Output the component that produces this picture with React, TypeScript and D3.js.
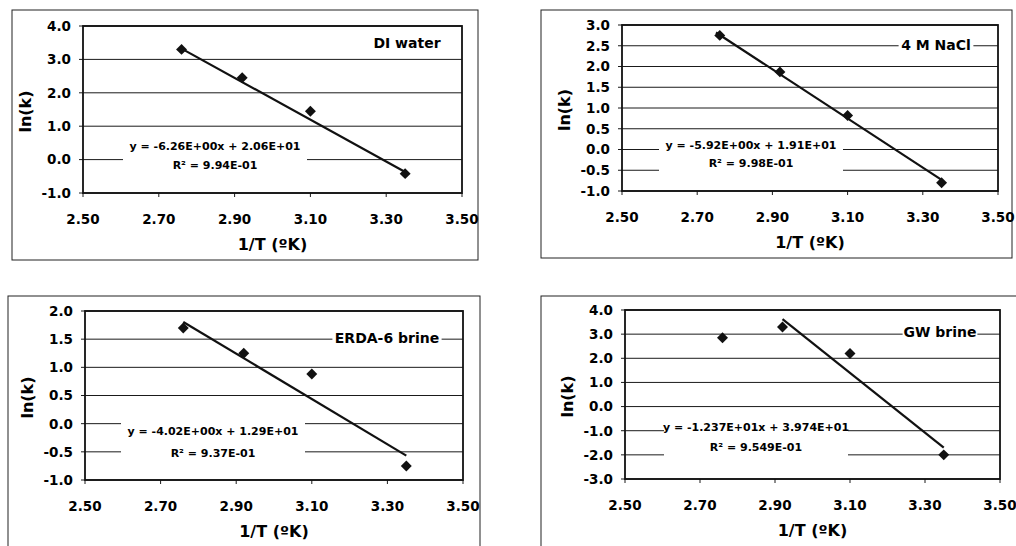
import React from 'react';
import * as d3 from 'd3';

// data
const panelNames = ['DI water', '4 M NaCl', 'ERDA-6 brine', 'GW brine'];
const invT = [2.76, 2.92, 3.1, 3.35];
const lnkDI = [3.3, 2.45, 1.45, -0.42];
const lnkNaCl = [2.75, 1.87, 0.82, -0.8];
const lnkERDA = [1.7, 1.25, 0.88, -0.75];
const lnkGW = [2.85, 3.3, 2.2, -2.0];
const slopes = [-6.26, -5.92, -4.02, -12.37];
const intercepts = [20.6, 19.1, 12.9, 39.74];
const fitStart = [2.76, 2.75, 2.76, 2.92];
const fitEnd = [3.35, 3.35, 3.35, 3.35];
const eqTexts = [
  'y = -6.26E+00x + 2.06E+01',
  'y = -5.92E+00x + 1.91E+01',
  'y = -4.02E+00x + 1.29E+01',
  'y = -1.237E+01x + 3.974E+01',
];
const r2Texts = ['R² = 9.94E-01', 'R² = 9.98E-01', 'R² = 9.37E-01', 'R² = 9.549E-01'];
const yDomains: [number, number][] = [[-1, 4], [-1, 3], [-1, 2], [-3, 4]];
const yTickStep = [1, 0.5, 0.5, 1];
const xTicks = [2.5, 2.7, 2.9, 3.1, 3.3, 3.5];
const seriesValues = [lnkDI, lnkNaCl, lnkERDA, lnkGW];

// layout of each panel on the page
const layout = [
  { box: [12, 10, 466, 250], plot: [83, 26, 462, 193], eq: [215, 146, 165], leg: [407, 43] },
  { box: [541, 10, 471, 248], plot: [622, 25, 998, 191], eq: [751, 145, 163], leg: [936, 45] },
  { box: [8, 296, 472, 270], plot: [85, 311, 463, 480], eq: [213, 431, 453], leg: [387, 338] },
  { box: [541, 296, 490, 270], plot: [625, 310, 1000, 479], eq: [756, 427, 447], leg: [940, 332] },
];

const FONT = 'DejaVu Sans, Arial, sans-serif';

const Panel: React.FC<{ i: number }> = ({ i }) => {
  const { box, plot, eq, leg } = layout[i];
  const [l, t, r, b] = plot;
  const x = d3.scaleLinear().domain([2.5, 3.5]).range([l, r]);
  const y = d3.scaleLinear().domain(yDomains[i]).range([b, t]);
  const yTicks = d3.range(yDomains[i][0], yDomains[i][1] + 1e-9, yTickStep[i]);
  const diamond = d3.symbol(d3.symbolSquare, 60)();
  const fit = (v: number) => slopes[i] * v + intercepts[i];
  const line = d3.line<number>().x((v) => x(v)).y((v) => y(fit(v)));
  const vals = seriesValues[i];

  return (
    <g fontFamily={FONT}>
      <rect x={box[0]} y={box[1]} width={box[2]} height={box[3]} fill="white" stroke="#222" strokeWidth={1} />
      {yTicks.map((v) => (
        <g key={'y' + v}>
          <line x1={l - 4} x2={r} y1={y(v)} y2={y(v)} stroke="#1a1a1a" strokeWidth={1} />
          <text x={l - 12} y={y(v)} dy="0.36em" textAnchor="end" fontSize={13.5} fontWeight="bold">
            {v.toFixed(1)}
          </text>
        </g>
      ))}
      {xTicks.map((v) => (
        <g key={'x' + v}>
          <line x1={x(v)} x2={x(v)} y1={b} y2={b + 4} stroke="#1a1a1a" strokeWidth={1} />
          <text x={x(v)} y={b + 31} textAnchor="middle" fontSize={13.5} fontWeight="bold">
            {v.toFixed(2)}
          </text>
        </g>
      ))}
      <rect x={l} y={t} width={r - l} height={b - t} fill="none" stroke="#111" strokeWidth={1.8} />
      {/* equation label with white background */}
      <rect x={eq[0] - 92} y={eq[1] - 11} width={184} height={eq[2] - eq[1] + 20} fill="white" />
      <text x={eq[0]} y={eq[1]} dy="0.36em" textAnchor="middle" fontSize={11} fontWeight="bold">
        {eqTexts[i]}
      </text>
      <text x={eq[0]} y={eq[2]} dy="0.36em" textAnchor="middle" fontSize={11} fontWeight="bold">
        {r2Texts[i]}
      </text>
      <path d={line([fitStart[i], fitEnd[i]]) || ''} stroke="#111" strokeWidth={2.2} fill="none" />
      {vals.map((v, k) => (
        <path
          key={k}
          d={diamond || ''}
          transform={`translate(${x(invT[k])},${y(v)}) rotate(45)`}
          fill="#111"
        />
      ))}
      <LegendLabel cx={leg[0]} cy={leg[1]} text={panelNames[i]} />
      <text x={(l + r) / 2} y={b + 57} textAnchor="middle" fontSize={16} fontWeight="bold">
        1/T (ºK)
      </text>
      <text
        transform={`translate(${l - 58},${(t + b) / 2 + 2}) rotate(-90)`}
        textAnchor="middle"
        dy="0.36em"
        fontSize={16}
        fontWeight="bold"
      >
        ln(k)
      </text>
    </g>
  );
};

const LegendLabel: React.FC<{ cx: number; cy: number; text: string }> = ({ cx, cy, text }) => {
  const w = text.length * 8.6 + 6;
  return (
    <g>
      <rect x={cx - w / 2} y={cy - 9} width={w} height={18} fill="white" />
      <text x={cx} y={cy} dy="0.36em" textAnchor="middle" fontSize={14} fontWeight="bold" fontFamily={FONT}>
        {text}
      </text>
    </g>
  );
};

const App: React.FC = () => (
  <svg width={1016} height={546} style={{ position: 'absolute', left: 0, top: 0 }}>
    <rect width={1016} height={546} fill="white" />
    {panelNames.map((_, i) => (
      <Panel key={i} i={i} />
    ))}
  </svg>
);

export default App;
